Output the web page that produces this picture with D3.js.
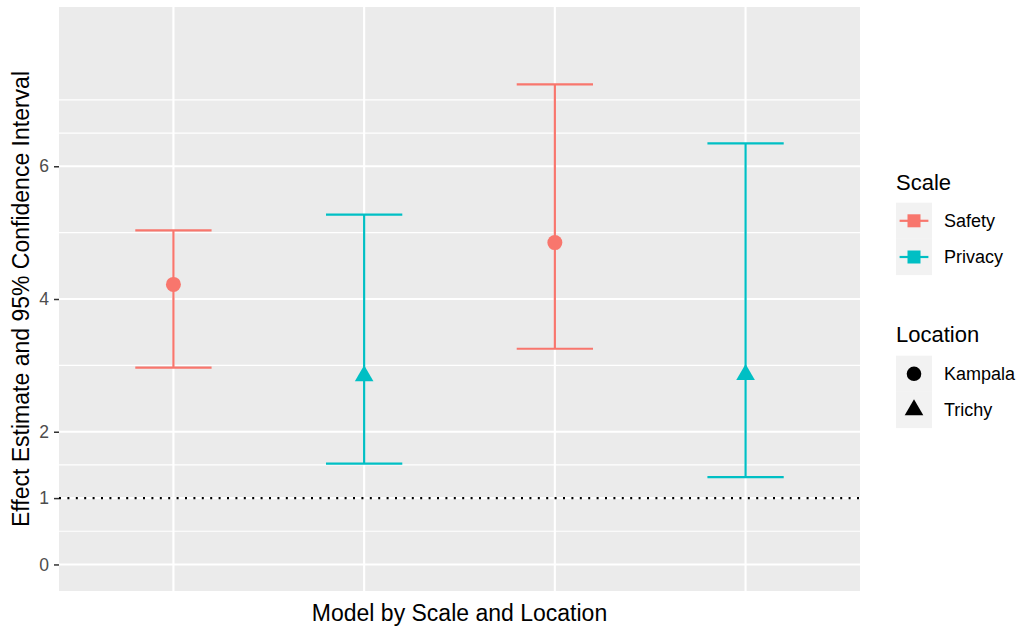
<!DOCTYPE html>
<html>
<head>
<meta charset="utf-8">
<script src="https://cdn.jsdelivr.net/npm/d3@7/dist/d3.min.js"></script>
<style>
  html, body { margin: 0; padding: 0; background: #ffffff; }
  svg { display: block; font-family: "Liberation Sans", Arial, sans-serif; }
</style>
</head>
<body>
<svg id="chart" width="1018" height="629"></svg>
<script>
// ---- data ----
const models    = ["Model 1", "Model 2", "Model 3", "Model 4"];
const scales    = ["Safety", "Privacy", "Safety", "Privacy"];
const locations = ["Kampala", "Trichy", "Kampala", "Trichy"];
const estimates = [4.22, 2.84, 4.85, 2.86];
const lowers    = [2.965, 1.52, 3.25, 1.315];
const uppers    = [5.035, 5.27, 7.235, 6.345];

const yTicks      = [0, 1, 2, 4, 6];
const yMinorGrid  = [0.5, 1.5, 3, 5, 6.5, 7];
const refLine     = 1;

const scaleLevels    = ["Safety", "Privacy"];
const scaleColors    = ["#F8766D", "#00BFC4"];
const locationLevels = ["Kampala", "Trichy"];

const xTitle = "Model by Scale and Location";
const yTitle = "Effect Estimate and 95% Confidence Interval";

// ---- layout ----
const svg = d3.select("#chart");
const panel = { left: 59, right: 860, top: 7, bottom: 591 };

const x = d3.scalePoint().domain(models).range([panel.left, panel.right]).padding(0.6);
const y = d3.scaleLinear().domain([-0.4, 8.4]).range([panel.bottom, panel.top]);
const color = d3.scaleOrdinal().domain(scaleLevels).range(scaleColors);
const capHalf = x.step() * 0.2;

const rows = models.map((m, i) => ({
  model: m, scale: scales[i], loc: locations[i],
  est: estimates[i], lo: lowers[i], hi: uppers[i]
}));

// panel background
svg.append("rect")
  .attr("x", panel.left).attr("y", panel.top)
  .attr("width", panel.right - panel.left).attr("height", panel.bottom - panel.top)
  .attr("fill", "#EBEBEB");

// minor grid
svg.append("g").selectAll("line").data(yMinorGrid).join("line")
  .attr("x1", panel.left).attr("x2", panel.right)
  .attr("y1", d => y(d)).attr("y2", d => y(d))
  .attr("stroke", "#ffffff").attr("stroke-width", 1.1);

// major grid
svg.append("g").selectAll("line").data(yTicks).join("line")
  .attr("x1", panel.left).attr("x2", panel.right)
  .attr("y1", d => y(d)).attr("y2", d => y(d))
  .attr("stroke", "#ffffff").attr("stroke-width", 2.1);

svg.append("g").selectAll("line").data(models).join("line")
  .attr("x1", d => x(d)).attr("x2", d => x(d))
  .attr("y1", panel.top).attr("y2", panel.bottom)
  .attr("stroke", "#ffffff").attr("stroke-width", 2.1);

// reference line
svg.append("line")
  .attr("x1", panel.left).attr("x2", panel.right)
  .attr("y1", y(refLine)).attr("y2", y(refLine))
  .attr("stroke", "#000000").attr("stroke-width", 2.1)
  .attr("stroke-dasharray", "2,6.4");

// error bars
const eb = svg.append("g").selectAll("g").data(rows).join("g")
  .attr("stroke", d => color(d.scale)).attr("stroke-width", 2.2).attr("fill", "none");
eb.append("line")
  .attr("x1", d => x(d.model)).attr("x2", d => x(d.model))
  .attr("y1", d => y(d.lo)).attr("y2", d => y(d.hi));
eb.append("line")
  .attr("x1", d => x(d.model) - capHalf).attr("x2", d => x(d.model) + capHalf)
  .attr("y1", d => y(d.hi)).attr("y2", d => y(d.hi));
eb.append("line")
  .attr("x1", d => x(d.model) - capHalf).attr("x2", d => x(d.model) + capHalf)
  .attr("y1", d => y(d.lo)).attr("y2", d => y(d.lo));

// point shapes
function trianglePath(cx, cy, s) {
  // centroid-centered equilateral triangle, half width s
  const h = s * Math.sqrt(3);
  return `M${cx},${cy - h * 2 / 3}L${cx + s},${cy + h / 3}L${cx - s},${cy + h / 3}Z`;
}
const pts = svg.append("g");
rows.forEach(d => {
  if (d.loc === "Kampala") {
    pts.append("circle").attr("cx", x(d.model)).attr("cy", y(d.est)).attr("r", 7.5)
      .attr("fill", color(d.scale));
  } else {
    pts.append("path").attr("d", trianglePath(x(d.model), y(d.est), 9.3))
      .attr("fill", color(d.scale));
  }
});

// y axis
const yAxis = d3.axisLeft(y).tickValues(yTicks).tickSize(5).tickPadding(5).tickFormat(d3.format("d"));
const ya = svg.append("g").attr("transform", `translate(${panel.left},0)`).call(yAxis);
ya.select(".domain").remove();
ya.selectAll(".tick line").attr("stroke", "#333333").attr("stroke-width", 1.5);
ya.selectAll(".tick text").attr("fill", "#4D4D4D").style("font-size", "17.5px")
  .style("font-family", "'Liberation Sans', Arial, sans-serif");

// axis titles
svg.append("text")
  .attr("x", (panel.left + panel.right) / 2).attr("y", 621)
  .attr("text-anchor", "middle").attr("fill", "#000")
  .style("font-size", "23px").text(xTitle);
svg.append("text")
  .attr("transform", `translate(29,${(panel.top + panel.bottom) / 2}) rotate(-90)`)
  .attr("text-anchor", "middle").attr("fill", "#000")
  .style("font-size", "23px").text(yTitle);

// legends
const keyX = 896, keyW = 36, keyH = 36.2, labelX = 944;

function legend(title, titleY, keysTop, levels, drawKey) {
  const g = svg.append("g");
  g.append("text").attr("x", keyX).attr("y", titleY).attr("fill", "#000")
    .style("font-size", "22px").text(title);
  levels.forEach((lv, i) => {
    const top = keysTop + i * keyH;
    g.append("rect").attr("x", keyX).attr("y", top).attr("width", keyW).attr("height", keyH)
      .attr("fill", "#F2F2F2");
    drawKey(g, lv, keyX + keyW / 2, top + keyH / 2);
    g.append("text").attr("x", labelX).attr("y", top + keyH / 2 + 6.4)
      .attr("fill", "#000").style("font-size", "18px").text(lv);
  });
}

legend("Scale", 189.5, 202.7, scaleLevels, (g, lv, cx, cy) => {
  g.append("line").attr("x1", keyX + keyW * 0.1).attr("x2", keyX + keyW * 0.9)
    .attr("y1", cy).attr("y2", cy).attr("stroke", color(lv)).attr("stroke-width", 2.2);
  g.append("rect").attr("x", cx - 6.5).attr("y", cy - 6.5).attr("width", 13).attr("height", 13)
    .attr("fill", color(lv));
});

legend("Location", 341.7, 355.7, locationLevels, (g, lv, cx, cy) => {
  if (lv === "Kampala") {
    g.append("circle").attr("cx", cx).attr("cy", cy).attr("r", 7.3).attr("fill", "#000");
  } else {
    g.append("path").attr("d", trianglePath(cx, cy, 9.3)).attr("fill", "#000");
  }
});
</script>
</body>
</html>
